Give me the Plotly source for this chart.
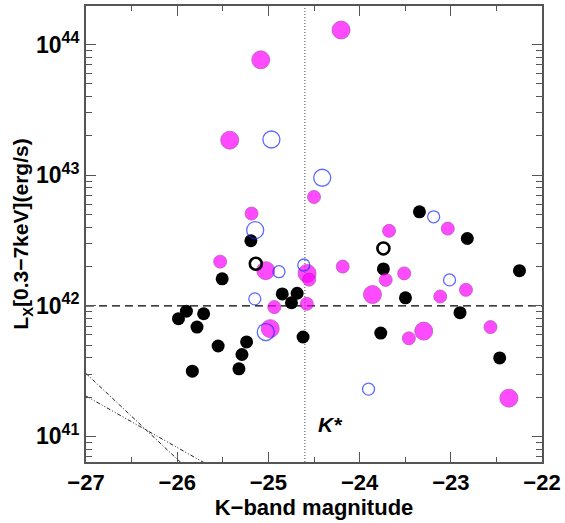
import plotly.graph_objects as go

# ---- data (K-band absolute magnitude, log10 Lx) ----
black_k = [-25.192, -25.507, -24.848, -24.685, -24.747, -25.899, -25.71, -25.783,
           -25.551, -25.239, -25.29, -25.323, -25.834, -24.62, -25.986,
           -23.344, -22.819, -23.739, -22.247, -23.497, -22.899, -23.768, -22.464]
black_logL = [42.498, 42.206, 42.091, 42.096, 42.023, 41.959, 41.939, 41.837,
              41.692, 41.723, 41.627, 41.517, 41.499, 41.761, 41.901,
              42.719, 42.515, 42.282, 42.269, 42.061, 41.947, 41.791, 41.601]

mag_k = [-24.203, -25.084, -25.424, -24.5, -25.185, -25.529, -25.029, -24.576,
         -24.554, -24.185, -23.859, -24.935, -24.579, -24.98,
         -23.677, -23.033, -23.714, -23.511, -22.834, -23.116, -23.297, -23.46,
         -22.565, -22.363]
mag_logL = [44.111, 43.883, 43.268, 42.833, 42.706, 42.338, 42.269, 42.248,
            42.2, 42.3, 42.086, 41.99, 42.015, 41.825,
            42.574, 42.591, 42.198, 42.248, 42.122, 42.071, 41.806, 41.751,
            41.837, 41.293]
mag_big = [1, 1, 1, 0, 0, 0, 1, 1,
           0, 0, 1, 0, 0, 1,
           0, 0, 0, 0, 0, 0, 1, 0,
           0, 1]

blue_k = [-24.967, -24.41, -25.145, -24.612, -24.884, -25.149, -25.029,
          -23.188, -23.014, -23.902]
blue_logL = [43.273, 42.98, 42.579, 42.312, 42.261, 42.053, 41.799,
             42.681, 42.198, 41.362]
blue_big = [1, 1, 1, 0, 0, 0, 1, 0, 0, 0]

open_k = [-25.138, -23.739]
open_logL = [42.322, 42.439]

K_STAR = -24.6
L_THRESH = 1e42
K_STAR_LABEL_POS = (-24.33, 41.088)

line1_k = [-27.0, -25.5]
line1_logL = [41.482, 40.498]
line2_k = [-27.0, -25.5]
line2_logL = [41.309, 40.718]

x_tick_vals = [-27, -26, -25, -24, -23, -22]
x_tick_text = ["\u221227", "\u221226", "\u221225", "\u221224", "\u221223", "\u221222"]
y_tick_exps = [41, 42, 43, 44]

FONT = "Liberation Sans"
AXIS_COLOR = "#555"

fig = go.Figure()

# limit lines
fig.add_trace(go.Scatter(x=line1_k, y=[10.0 ** v for v in line1_logL], mode="lines",
                         line=dict(color="#222", width=1, dash="4px,2px,1px,2px"),
                         showlegend=False, hoverinfo="skip"))
fig.add_trace(go.Scatter(x=line2_k, y=[10.0 ** v for v in line2_logL], mode="lines",
                         line=dict(color="#222", width=1, dash="4px,2px,1px,2px,1px,2px"),
                         showlegend=False, hoverinfo="skip"))

fig.add_shape(type="line", xref="x", yref="paper", x0=K_STAR, x1=K_STAR, y0=0, y1=1,
              line=dict(color="#444", width=1, dash="1px,2px"), layer="below")
fig.add_shape(type="line", xref="paper", yref="y", x0=0, x1=1, y0=L_THRESH, y1=L_THRESH,
              line=dict(color="black", width=1.2, dash="8px,5px"), layer="below")

fig.add_trace(go.Scatter(x=black_k, y=[10.0 ** v for v in black_logL], mode="markers",
                         marker=dict(color="black", size=13, line=dict(width=0)),
                         showlegend=False))
fig.add_trace(go.Scatter(x=mag_k, y=[10.0 ** v for v in mag_logL], mode="markers",
                         marker=dict(color="#FF00FF", size=[18 if b else 13 for b in mag_big],
                                     line=dict(color="#A010A0", width=0.8)),
                         showlegend=False))
fig.add_trace(go.Scatter(x=blue_k, y=[10.0 ** v for v in blue_logL], mode="markers",
                         marker=dict(color="rgba(0,0,0,0)", size=[17 if b else 12 for b in blue_big],
                                     line=dict(color="#1a2cff", width=1.3)),
                         showlegend=False))
fig.add_trace(go.Scatter(x=open_k, y=[10.0 ** v for v in open_logL], mode="markers",
                         marker=dict(color="rgba(0,0,0,0)", size=12,
                                     line=dict(color="black", width=2.6)),
                         showlegend=False))

fig.add_annotation(x=K_STAR_LABEL_POS[0], y=K_STAR_LABEL_POS[1], xref="x", yref="y",
                   text="<b><i>K*</i></b>", showarrow=False,
                   font=dict(family=FONT, size=21, color="black", weight=700))

axis_common = dict(showgrid=False, zeroline=False, showline=True, linecolor=AXIS_COLOR,
                   linewidth=2, mirror="allticks", ticks="inside", tickcolor=AXIS_COLOR,
                   ticklen=10, tickwidth=1.3)

fig.update_xaxes(range=[-27, -22], tickvals=x_tick_vals,
                 ticktext=["<b>%s</b>" % t for t in x_tick_text],
                 tickfont=dict(family=FONT, size=22, color="black", weight=700),
                 minor=dict(dtick=0.5, ticklen=5, ticks="inside", tickcolor=AXIS_COLOR),
                 title=dict(text="<b>K\u2212band magnitude</b>",
                            font=dict(family=FONT, size=22, color="black", weight=700),
                            standoff=5),
                 **axis_common)
fig.update_yaxes(type="log", range=[40.804, 44.295],
                 tickvals=[10.0 ** e for e in y_tick_exps],
                 ticktext=["<b>10<sup>%d</sup></b>" % e for e in y_tick_exps],
                 tickfont=dict(family=FONT, size=23, color="black", weight=700),
                 minor=dict(dtick="D1", ticklen=6, ticks="inside", tickcolor=AXIS_COLOR),
                 title=dict(text="<b>L<sub>X</sub>[0.3\u22127keV](erg/s)</b>",
                            font=dict(family=FONT, size=21, color="black", weight=700),
                            standoff=0),
                 **axis_common)

fig.update_layout(width=565, height=523, margin=dict(l=86, r=19, t=4, b=61),
                  plot_bgcolor="white", paper_bgcolor="white",
                  font=dict(family=FONT, color="black"))

fig.write_html("out.html")
